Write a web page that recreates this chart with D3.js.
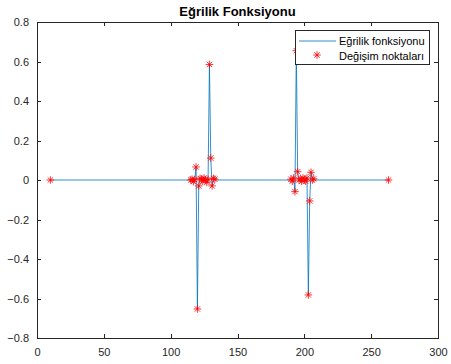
<!DOCTYPE html>
<html>
<head>
<meta charset="utf-8">
<script src="https://cdn.jsdelivr.net/npm/d3@7"></script>
<style>
  html, body { margin: 0; padding: 0; background: #fff; }
  svg { display: block; font-family: "Liberation Sans", Arial, sans-serif; }
</style>
</head>
<body>
<svg id="chart" width="451" height="364"></svg>
<script>
// Curvature function samples (x = contour index, y = curvature)
const curveX = [10, 115, 116, 117, 118, 119, 120, 121, 122, 123, 124, 125, 126, 127, 128, 129, 130, 131, 132, 133, 134,
                189, 190, 191, 192, 193, 194, 195, 196, 197, 198, 199, 200, 201, 202, 203, 204, 205, 206, 207, 208, 263];
const curveY = [0, 0, 0.004, -0.008, 0.002, 0.066, -0.653, -0.03, 0.008, 0.004, -0.006, 0.01, 0.0, -0.012, 0.003, 0.585, 0.111, -0.03, 0.008, 0.004, 0,
                0, 0.004, -0.006, 0.01, -0.059, 0.655, 0.042, 0.0, 0.006, -0.006, 0.01, 0.0, -0.006, 0.01, -0.582, -0.106, 0.039, 0.0, 0.006, 0, 0];

// Detected change points
const markX = [10, 115, 116, 117, 118, 119, 120, 121, 122, 123, 124, 125, 126, 127, 128, 129, 130, 131, 132, 133,
               190, 191, 192, 193, 194, 195, 196, 197, 198, 199, 200, 201, 202, 203, 204, 205, 206, 207, 263];
const markY = [0, 0, 0.004, -0.008, 0.002, 0.066, -0.653, -0.03, 0.008, 0.004, -0.006, 0.01, 0.0, -0.012, 0.003, 0.585, 0.111, -0.03, 0.008, 0.004,
               0.004, -0.006, 0.01, -0.059, 0.655, 0.042, 0.0, 0.006, -0.006, 0.01, 0.0, -0.006, 0.01, -0.582, -0.106, 0.039, 0.0, 0.006, 0];

const xTicks = [0, 50, 100, 150, 200, 250, 300];
const yTicks = [-0.8, -0.6, -0.4, -0.2, 0, 0.2, 0.4, 0.6, 0.8];
const titleText = "Eğrilik Fonksiyonu";
const legendLabels = ["Eğrilik fonksiyonu", "Değişim noktaları"];

const svg = d3.select("#chart");
const L = 37, R = 438, T = 22, B = 338;
const axisColor = "#262626";

const x = d3.scaleLinear().domain([0, 300]).range([L, R]);
const y = d3.scaleLinear().domain([-0.8, 0.8]).range([B, T]);

const fmt = d => (d === 0 ? "0" : d3.format("")(+d.toFixed(1)));

// Axes: ticks point inward on all four sides
function styleAxis(g) {
  g.selectAll("path").attr("stroke", axisColor).attr("stroke-width", 1).attr("shape-rendering", "crispEdges");
  g.selectAll("line").attr("stroke", axisColor).attr("stroke-width", 1).attr("shape-rendering", "crispEdges");
  g.selectAll("text").attr("fill", axisColor).attr("font-size", 11)
    .attr("font-family", "'Liberation Sans', Arial, sans-serif");
}

svg.append("g").attr("transform", `translate(0,${B})`)
  .call(d3.axisBottom(x).tickValues(xTicks).tickSizeInner(-4).tickSizeOuter(0).tickPadding(10).tickFormat(fmt))
  .call(styleAxis);
svg.append("g").attr("transform", `translate(0,${T})`)
  .call(d3.axisTop(x).tickValues(xTicks).tickSizeInner(-4).tickSizeOuter(0).tickFormat(""))
  .call(styleAxis);
svg.append("g").attr("transform", `translate(${L},0)`)
  .call(d3.axisLeft(y).tickValues(yTicks).tickSizeInner(-4).tickSizeOuter(0).tickPadding(8).tickFormat(fmt))
  .call(styleAxis);
svg.append("g").attr("transform", `translate(${R},0)`)
  .call(d3.axisRight(y).tickValues(yTicks).tickSizeInner(-4).tickSizeOuter(0).tickFormat(""))
  .call(styleAxis);

// Curvature line
const pts = curveX.map((v, i) => [v, curveY[i]]);
const line = d3.line().x(d => x(d[0])).y(d => y(d[1]));
svg.append("path")
  .datum(pts)
  .attr("d", line)
  .attr("fill", "none")
  .attr("stroke", "#0072BD")
  .attr("stroke-width", 0.8);

// Asterisk marker (MATLAB '*')
function starPath(r) {
  const d = r * Math.SQRT1_2;
  return `M${-r},0L${r},0M0,${-r}L0,${r}M${-d},${-d}L${d},${d}M${-d},${d}L${d},${-d}`;
}
const marks = markX.map((v, i) => [v, markY[i]]);
svg.append("g").selectAll("path")
  .data(marks)
  .join("path")
  .attr("transform", d => `translate(${x(d[0])},${y(d[1])})`)
  .attr("d", starPath(3.8))
  .attr("fill", "none")
  .attr("stroke", "#FF0000")
  .attr("stroke-width", 0.8);

// Title
svg.append("text")
  .attr("x", (L + R) / 2)
  .attr("y", 16)
  .attr("text-anchor", "middle")
  .attr("font-size", 13)
  .attr("font-weight", "bold")
  .attr("fill", "#000")
  .text(titleText);

// Legend
const lg = svg.append("g");
lg.append("rect")
  .attr("x", 295.5).attr("y", 30.5).attr("width", 134).attr("height", 34)
  .attr("fill", "#fff").attr("stroke", axisColor).attr("stroke-width", 1);
lg.append("line")
  .attr("x1", 299).attr("x2", 336).attr("y1", 41).attr("y2", 41)
  .attr("stroke", "#0072BD").attr("stroke-width", 0.8);
lg.append("path")
  .attr("transform", "translate(317,55)")
  .attr("d", starPath(3.8))
  .attr("fill", "none").attr("stroke", "#FF0000").attr("stroke-width", 0.8);
lg.selectAll("text.lbl")
  .data(legendLabels)
  .join("text")
  .attr("class", "lbl")
  .attr("x", 339)
  .attr("y", (d, i) => 45 + i * 14.5)
  .attr("font-size", 11)
  .attr("fill", "#000")
  .text(d => d);
</script>
</body>
</html>
